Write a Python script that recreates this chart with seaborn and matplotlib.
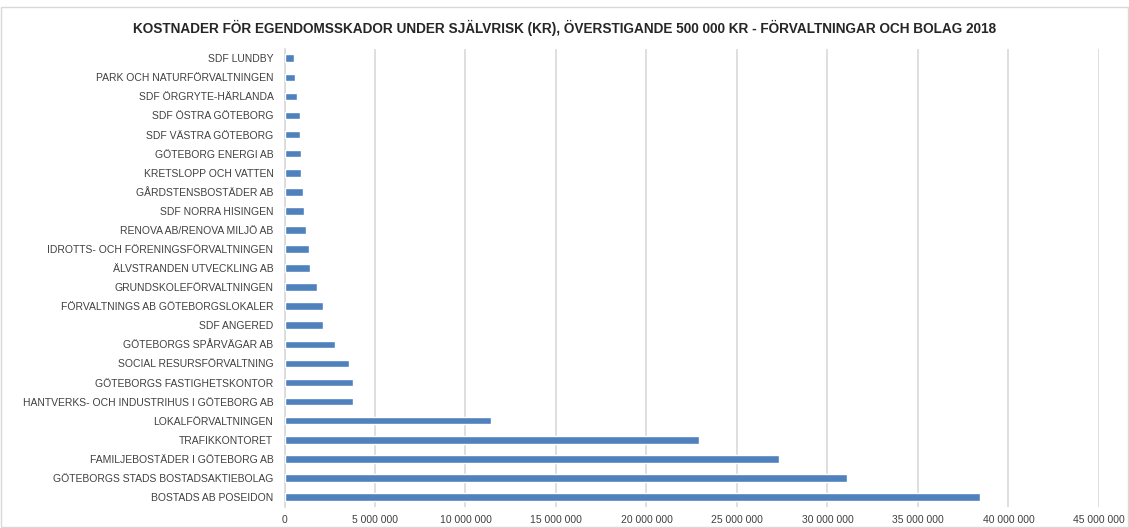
import matplotlib
matplotlib.use("Agg")
import matplotlib.pyplot as plt
import seaborn as sns
import pandas as pd
from matplotlib.ticker import FuncFormatter, MultipleLocator

categories = [
    "SDF LUNDBY",
    "PARK OCH NATURFÖRVALTNINGEN",
    "SDF ÖRGRYTE-HÄRLANDA",
    "SDF ÖSTRA GÖTEBORG",
    "SDF VÄSTRA GÖTEBORG",
    "GÖTEBORG ENERGI AB",
    "KRETSLOPP OCH VATTEN",
    "GÅRDSTENSBOSTÄDER AB",
    "SDF NORRA HISINGEN",
    "RENOVA AB/RENOVA MILJÖ AB",
    "IDROTTS- OCH FÖRENINGSFÖRVALTNINGEN",
    "ÄLVSTRANDEN UTVECKLING AB",
    "GRUNDSKOLEFÖRVALTNINGEN",
    "FÖRVALTNINGS AB GÖTEBORGSLOKALER",
    "SDF ANGERED",
    "GÖTEBORGS SPÅRVÄGAR AB",
    "SOCIAL RESURSFÖRVALTNING",
    "GÖTEBORGS FASTIGHETSKONTOR",
    "HANTVERKS- OCH INDUSTRIHUS I GÖTEBORG AB",
    "LOKALFÖRVALTNINGEN",
    "TRAFIKKONTORET",
    "FAMILJEBOSTÄDER I GÖTEBORG AB",
    "GÖTEBORGS STADS BOSTADSAKTIEBOLAG",
    "BOSTADS AB POSEIDON",
]
costs = [
    540000, 590000, 680000, 830000, 830000, 890000, 890000, 1000000,
    1070000, 1160000, 1330000, 1420000, 1810000, 2120000, 2150000,
    2770000, 3580000, 3790000, 3800000, 11430000, 22900000, 27300000,
    31070000, 38400000,
]
title = "KOSTNADER FÖR EGENDOMSSKADOR UNDER SJÄLVRISK (KR), ÖVERSTIGANDE 500 000 KR - FÖRVALTNINGAR OCH BOLAG 2018"

df = pd.DataFrame({"Organisation": categories, "Kostnad": costs})

sns.set_style("white")
plt.rcParams["font.family"] = ["Liberation Sans", "DejaVu Sans"]

fig = plt.figure(figsize=(11.29, 5.28), dpi=100)
ax = fig.add_axes([0.252, 0.0407, 0.7214, 0.867])

sns.barplot(data=df, y="Organisation", x="Kostnad", order=categories,
            orient="h", color="#4F81BD", saturation=1, width=0.4, ax=ax, zorder=3)

ax.set_xlim(0, 45000000)
ax.set_ylim(len(categories) - 0.5, -0.5)
ax.xaxis.set_major_locator(MultipleLocator(5000000))
ax.xaxis.set_major_formatter(FuncFormatter(lambda v, p: f"{int(v):,}".replace(",", " ")))
ax.grid(axis="x", color="#D9D9D9", linewidth=1.2, zorder=0)
ax.grid(axis="y", visible=False)
for s in ["top", "right", "bottom"]:
    ax.spines[s].set_visible(False)
ax.spines["left"].set_color("#D9D9D9")
ax.spines["left"].set_linewidth(1.2)
ax.set_xlabel("")
ax.set_ylabel("")
ax.tick_params(axis="y", length=0, pad=8, labelsize=7.5, labelcolor="#404040")
ax.tick_params(axis="x", length=0, pad=6, labelsize=7.5, labelcolor="#404040")

fig.text(0.5, 0.947, title, ha="center", va="center", fontsize=9.8,
         fontweight="bold", color="#262626")

fig.patches.append(plt.Rectangle((0.001, 0.002), 0.998, 0.985, transform=fig.transFigure,
                                 fill=False, edgecolor="#D9D9D9", linewidth=1))

fig.savefig("out.png", dpi=100)
